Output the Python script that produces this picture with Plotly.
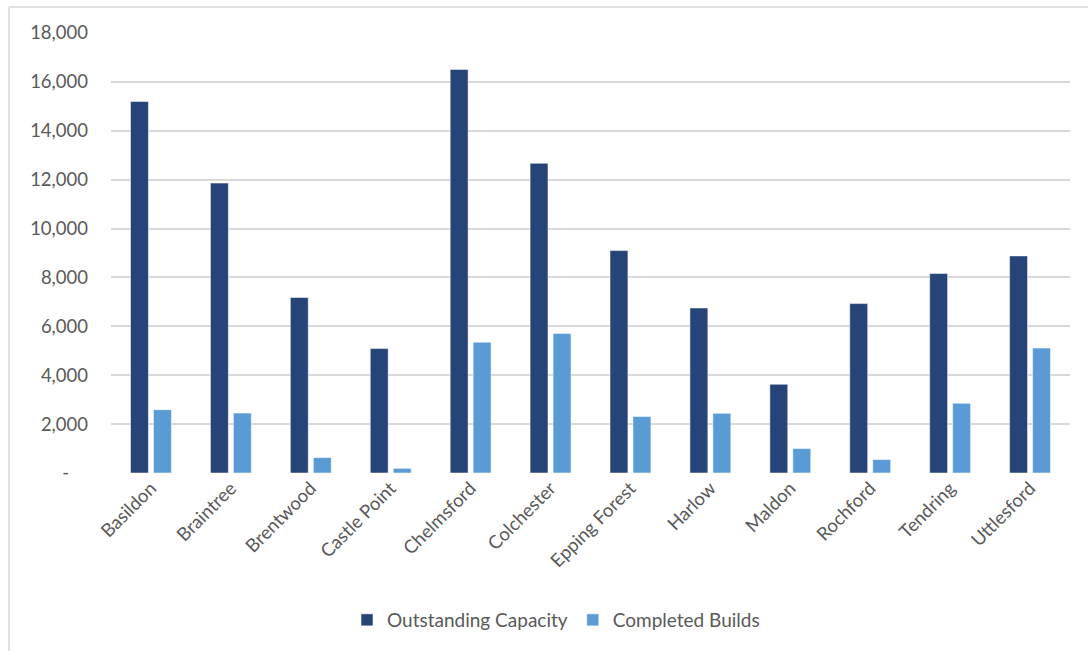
import plotly.graph_objects as go

districts = ["Basildon", "Braintree", "Brentwood", "Castle Point", "Chelmsford", "Colchester",
             "Epping Forest", "Harlow", "Maldon", "Rochford", "Tendring", "Uttlesford"]
outstanding_capacity = [15200, 11860, 7180, 5090, 16510, 12670, 9100, 6750, 3630, 6930, 8160, 8880]
completed_builds = [2590, 2450, 630, 190, 5350, 5710, 2310, 2440, 1000, 550, 2850, 5110]

tick_vals = [0, 2000, 4000, 6000, 8000, 10000, 12000, 14000, 16000, 18000]
tick_text = ["-\u00a0\u00a0\u00a0\u00a0", "2,000", "4,000", "6,000", "8,000", "10,000",
             "12,000", "14,000", "16,000", "18,000"]

FONT = "Lato, 'Open Sans', sans-serif"
TXT = "#595959"

fig = go.Figure()
fig.add_trace(go.Bar(name="Outstanding Capacity", x=districts, y=outstanding_capacity,
                     marker=dict(color="#264478", line=dict(color="rgba(255,255,255,0.5)", width=1))))
fig.add_trace(go.Bar(name="Completed Builds", x=districts, y=completed_builds,
                     marker=dict(color="#5B9BD5", line=dict(color="rgba(255,255,255,0.5)", width=1))))

W, H = 1088, 651
L, R, T, B = 111, 18, 33, 178
pw, ph = W - L - R, H - T - B

fig.update_layout(
    width=W, height=H,
    margin=dict(l=L, r=R, t=T, b=B),
    paper_bgcolor="white", plot_bgcolor="white",
    barmode="group", bargap=0.425, bargroupgap=0.22,
    font=dict(family=FONT, size=18.5, color=TXT),
    showlegend=True,
    legend=dict(orientation="h", x=(556 - L) / pw, xanchor="center",
                y=-(620 - (H - B)) / ph, yanchor="middle",
                font=dict(family=FONT, size=19, color=TXT),
                itemwidth=30, traceorder="normal", bgcolor="rgba(0,0,0,0)"),
    xaxis=dict(tickangle=-45, showgrid=False, showline=False, ticks="",
               tickfont=dict(family=FONT, size=18.5, color=TXT)),
    yaxis=dict(range=[0, 18000], tickvals=tick_vals, ticktext=tick_text,
               showgrid=True, gridcolor="#D9D9D9", gridwidth=1.5,
               zeroline=False, showline=False, ticks="",
               ticklabelstandoff=22,
               tickfont=dict(family=FONT, size=18.5, color=TXT)),
    shapes=[
        dict(type="line", xref="paper", yref="paper",
             x0=(9 - L) / pw, x1=(9 - L) / pw,
             y0=-(H + 5 - (H - B)) / ph, y1=((H - B) - 7) / ph,
             line=dict(color="#D9D9D9", width=1.5), layer="below"),
        dict(type="line", xref="paper", yref="paper",
             x0=(9 - L) / pw, x1=(W + 5 - L) / pw,
             y0=((H - B) - 7) / ph, y1=((H - B) - 7) / ph,
             line=dict(color="#D9D9D9", width=1.5), layer="below"),
    ],
)

fig.write_html("out.html")
